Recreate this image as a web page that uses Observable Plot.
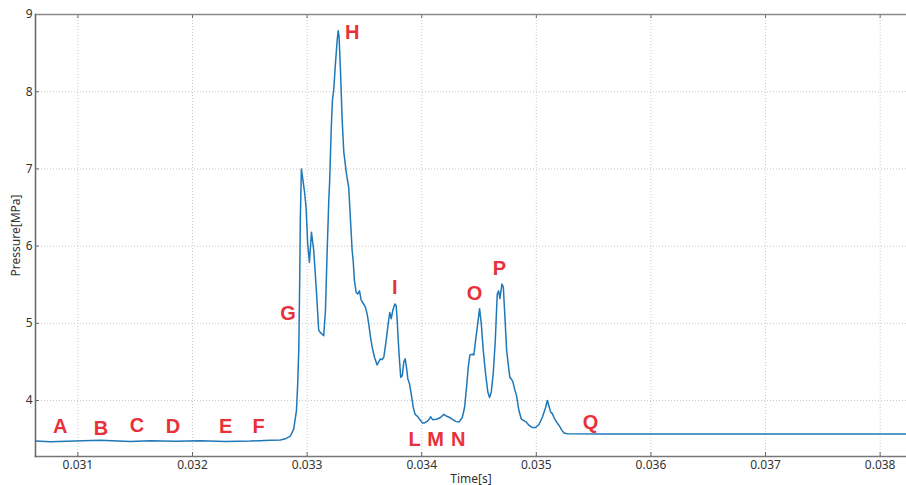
<!DOCTYPE html>
<html>
<head>
<meta charset="utf-8">
<script src="https://cdn.jsdelivr.net/npm/d3@7"></script>
<script src="https://cdn.jsdelivr.net/npm/@observablehq/plot@0.6"></script>
<style>
  html, body { margin: 0; padding: 0; background: #fff; }
  #chart svg { display: block; }
</style>
</head>
<body>
<div id="chart"></div>
<script>
// Pressure trace over time
const timeS = [
  0.03063, 0.030758, 0.031195, 0.031457, 0.031631, 0.03185, 0.032068, 0.032286, 0.032505, 0.032679,
  0.032767, 0.03281, 0.032854, 0.032883, 0.032907, 0.032918, 0.032927, 0.032935, 0.032941, 0.03295,
  0.032976, 0.032991, 0.033005, 0.03302, 0.033038, 0.033058, 0.033081, 0.033101, 0.033116, 0.033131,
  0.033145, 0.03316, 0.033175, 0.033189, 0.033197, 0.03321, 0.033221, 0.033232, 0.033247, 0.033262,
  0.033271, 0.033279, 0.033291, 0.033306, 0.03332, 0.033343, 0.033363, 0.033393, 0.033402, 0.033413,
  0.033428, 0.033442, 0.033457, 0.033472, 0.033489, 0.033509, 0.033524, 0.033538, 0.033553, 0.033568,
  0.033588, 0.033611, 0.033625, 0.03364, 0.033655, 0.033669, 0.03369, 0.033707, 0.033721, 0.033734,
  0.033748, 0.033765, 0.033777, 0.033786, 0.033795, 0.033806, 0.033817, 0.03383, 0.033844, 0.033856,
  0.033867, 0.033879, 0.033893, 0.033908, 0.033926, 0.033943, 0.033966, 0.03399, 0.034007, 0.034024,
  0.034048, 0.034066, 0.034077, 0.034097, 0.034135, 0.034164, 0.034193, 0.034214, 0.034243, 0.034266,
  0.034295, 0.034324, 0.034354, 0.034374, 0.034391, 0.034406, 0.03442, 0.034441, 0.034455, 0.03447,
  0.034485, 0.034505, 0.03452, 0.034537, 0.034557, 0.034577, 0.034592, 0.034607, 0.034624, 0.034642,
  0.034659, 0.034671, 0.034682, 0.0347, 0.034712, 0.034726, 0.034741, 0.034758, 0.034769, 0.034782,
  0.034796, 0.03481, 0.034828, 0.034848, 0.034869, 0.034892, 0.034913, 0.034935, 0.034965, 0.034994,
  0.035023, 0.035052, 0.035081, 0.035096, 0.035114, 0.035125, 0.03514, 0.035154, 0.035177, 0.035197,
  0.035221, 0.035241, 0.035271, 0.0356, 0.0365, 0.0375, 0.03823
];
const pressureMPa = [
  3.475, 3.465, 3.486, 3.47, 3.48, 3.472, 3.478, 3.47, 3.475, 3.486,
  3.49, 3.504, 3.54, 3.63, 3.87, 4.22, 4.65, 5.51, 6.37, 7.0,
  6.72, 6.5, 6.03, 5.79, 6.18, 5.94, 5.42, 4.91, 4.88, 4.86,
  4.84, 5.17, 5.94, 6.59, 6.85, 7.5, 7.89, 8.02, 8.36, 8.66,
  8.79, 8.71, 8.27, 7.63, 7.22, 6.94, 6.76, 5.94, 5.81, 5.55,
  5.4, 5.38, 5.42, 5.3, 5.26, 5.21, 5.12, 4.99, 4.82, 4.69,
  4.56, 4.46, 4.5, 4.54, 4.53, 4.56, 4.78, 4.99, 5.14, 5.06,
  5.17, 5.25, 5.23, 5.04, 4.78, 4.52, 4.3, 4.32, 4.5, 4.54,
  4.43, 4.28, 4.22, 4.09, 3.91, 3.82, 3.79, 3.74, 3.71, 3.71,
  3.73, 3.76, 3.79, 3.75, 3.76, 3.78, 3.82, 3.8, 3.78, 3.76,
  3.73, 3.72, 3.78, 3.91, 4.17, 4.43, 4.59, 4.6, 4.59, 4.78,
  4.95, 5.19, 4.99, 4.65, 4.35, 4.11, 4.04, 4.11, 4.35, 4.78,
  5.38, 5.42, 5.32, 5.51, 5.47, 5.08, 4.65, 4.43, 4.3, 4.28,
  4.24, 4.15, 4.06, 3.87, 3.76, 3.74, 3.72, 3.68, 3.65, 3.65,
  3.69, 3.78, 3.91, 4.0, 3.91, 3.85, 3.83, 3.78, 3.72, 3.68,
  3.62, 3.58, 3.57, 3.568, 3.567, 3.566, 3.565
];

// Point annotations A–Q
const markerNames = ["A", "B", "C", "D", "E", "F", "G", "H", "I", "L", "M", "N", "O", "P", "Q"];
const markerTime = [0.030845, 0.031201, 0.031515, 0.03183, 0.032289, 0.032577, 0.032834, 0.033393,
  0.033765, 0.033937, 0.034121, 0.034319, 0.034461, 0.034679, 0.035474];
const markerPressure = [3.663, 3.641, 3.676, 3.667, 3.667, 3.667, 5.131, 8.771,
  5.468, 3.491, 3.491, 3.491, 5.39, 5.714, 3.719];

// Axes
const xDomain = [0.03063, 0.03823];
const yDomain = [3.275, 9];
const xTicks = [0.031, 0.032, 0.033, 0.034, 0.035, 0.036, 0.037, 0.038];
const yTicks = [4, 5, 6, 7, 8, 9];

const series = timeS.map((t, i) => ({t, p: pressureMPa[i]}));
const markers = markerNames.map((name, i) => ({name, t: markerTime[i], p: markerPressure[i]}));

const W = 906, H = 485;
const mLeft = 35, mRight = 0, mTop = 14, mBottom = 29;
const innerH = H - mTop - mBottom;
const innerW = W - mLeft - mRight;
const tickLen = 4;

const chart = Plot.plot({
  width: W,
  height: H,
  marginLeft: mLeft,
  marginRight: mRight,
  marginTop: mTop,
  marginBottom: mBottom,
  style: {fontFamily: "'Noto Sans', sans-serif", fontSize: "12px", color: "#333", background: "#fff"},
  x: {domain: xDomain},
  y: {domain: yDomain},
  marks: [
    Plot.gridX(xTicks, {stroke: "#c8c8c8", strokeOpacity: 1, strokeDasharray: "1,2"}),
    Plot.gridY(yTicks, {stroke: "#c8c8c8", strokeOpacity: 1, strokeDasharray: "1,2"}),
    Plot.axisX(xTicks, {
      anchor: "bottom", tickSize: 0, tickPadding: 4,
      tickFormat: d => d.toFixed(3),
      label: "Time[s]", labelAnchor: "center", labelArrow: "none",
      fill: "#333"
    }),
    Plot.axisY(yTicks, {
      anchor: "left", tickSize: 0, tickPadding: 3,
      tickFormat: d => String(d),
      label: "Pressure[MPa]", labelAnchor: "center", labelArrow: "none", labelOffset: 24,
      fill: "#333"
    }),
    // inward tick marks on the bottom, top and left edges
    Plot.tickX(xTicks, {x: d => d, insetTop: innerH - tickLen, stroke: "#666"}),
    Plot.tickX(xTicks, {x: d => d, insetBottom: innerH - tickLen, stroke: "#666"}),
    Plot.tickY(yTicks, {y: d => d, insetRight: innerW - tickLen, stroke: "#666"}),
    Plot.frame({anchor: "top", stroke: "#8a8a8a", strokeWidth: 1.5}),
    Plot.frame({anchor: "bottom", stroke: "#777", strokeWidth: 1.5}),
    Plot.frame({anchor: "left", stroke: "#666", strokeWidth: 1.5}),
    Plot.line(series, {x: "t", y: "p", stroke: "#1f78b8", strokeWidth: 1.5}),
    Plot.text(markers, {
      x: "t", y: "p", text: "name",
      fill: "#e8313a", fontWeight: "bold", fontSize: 20,
      fontFamily: "'Liberation Sans', Arial, sans-serif"
    })
  ]
});

document.getElementById("chart").appendChild(chart);
</script>
</body>
</html>
